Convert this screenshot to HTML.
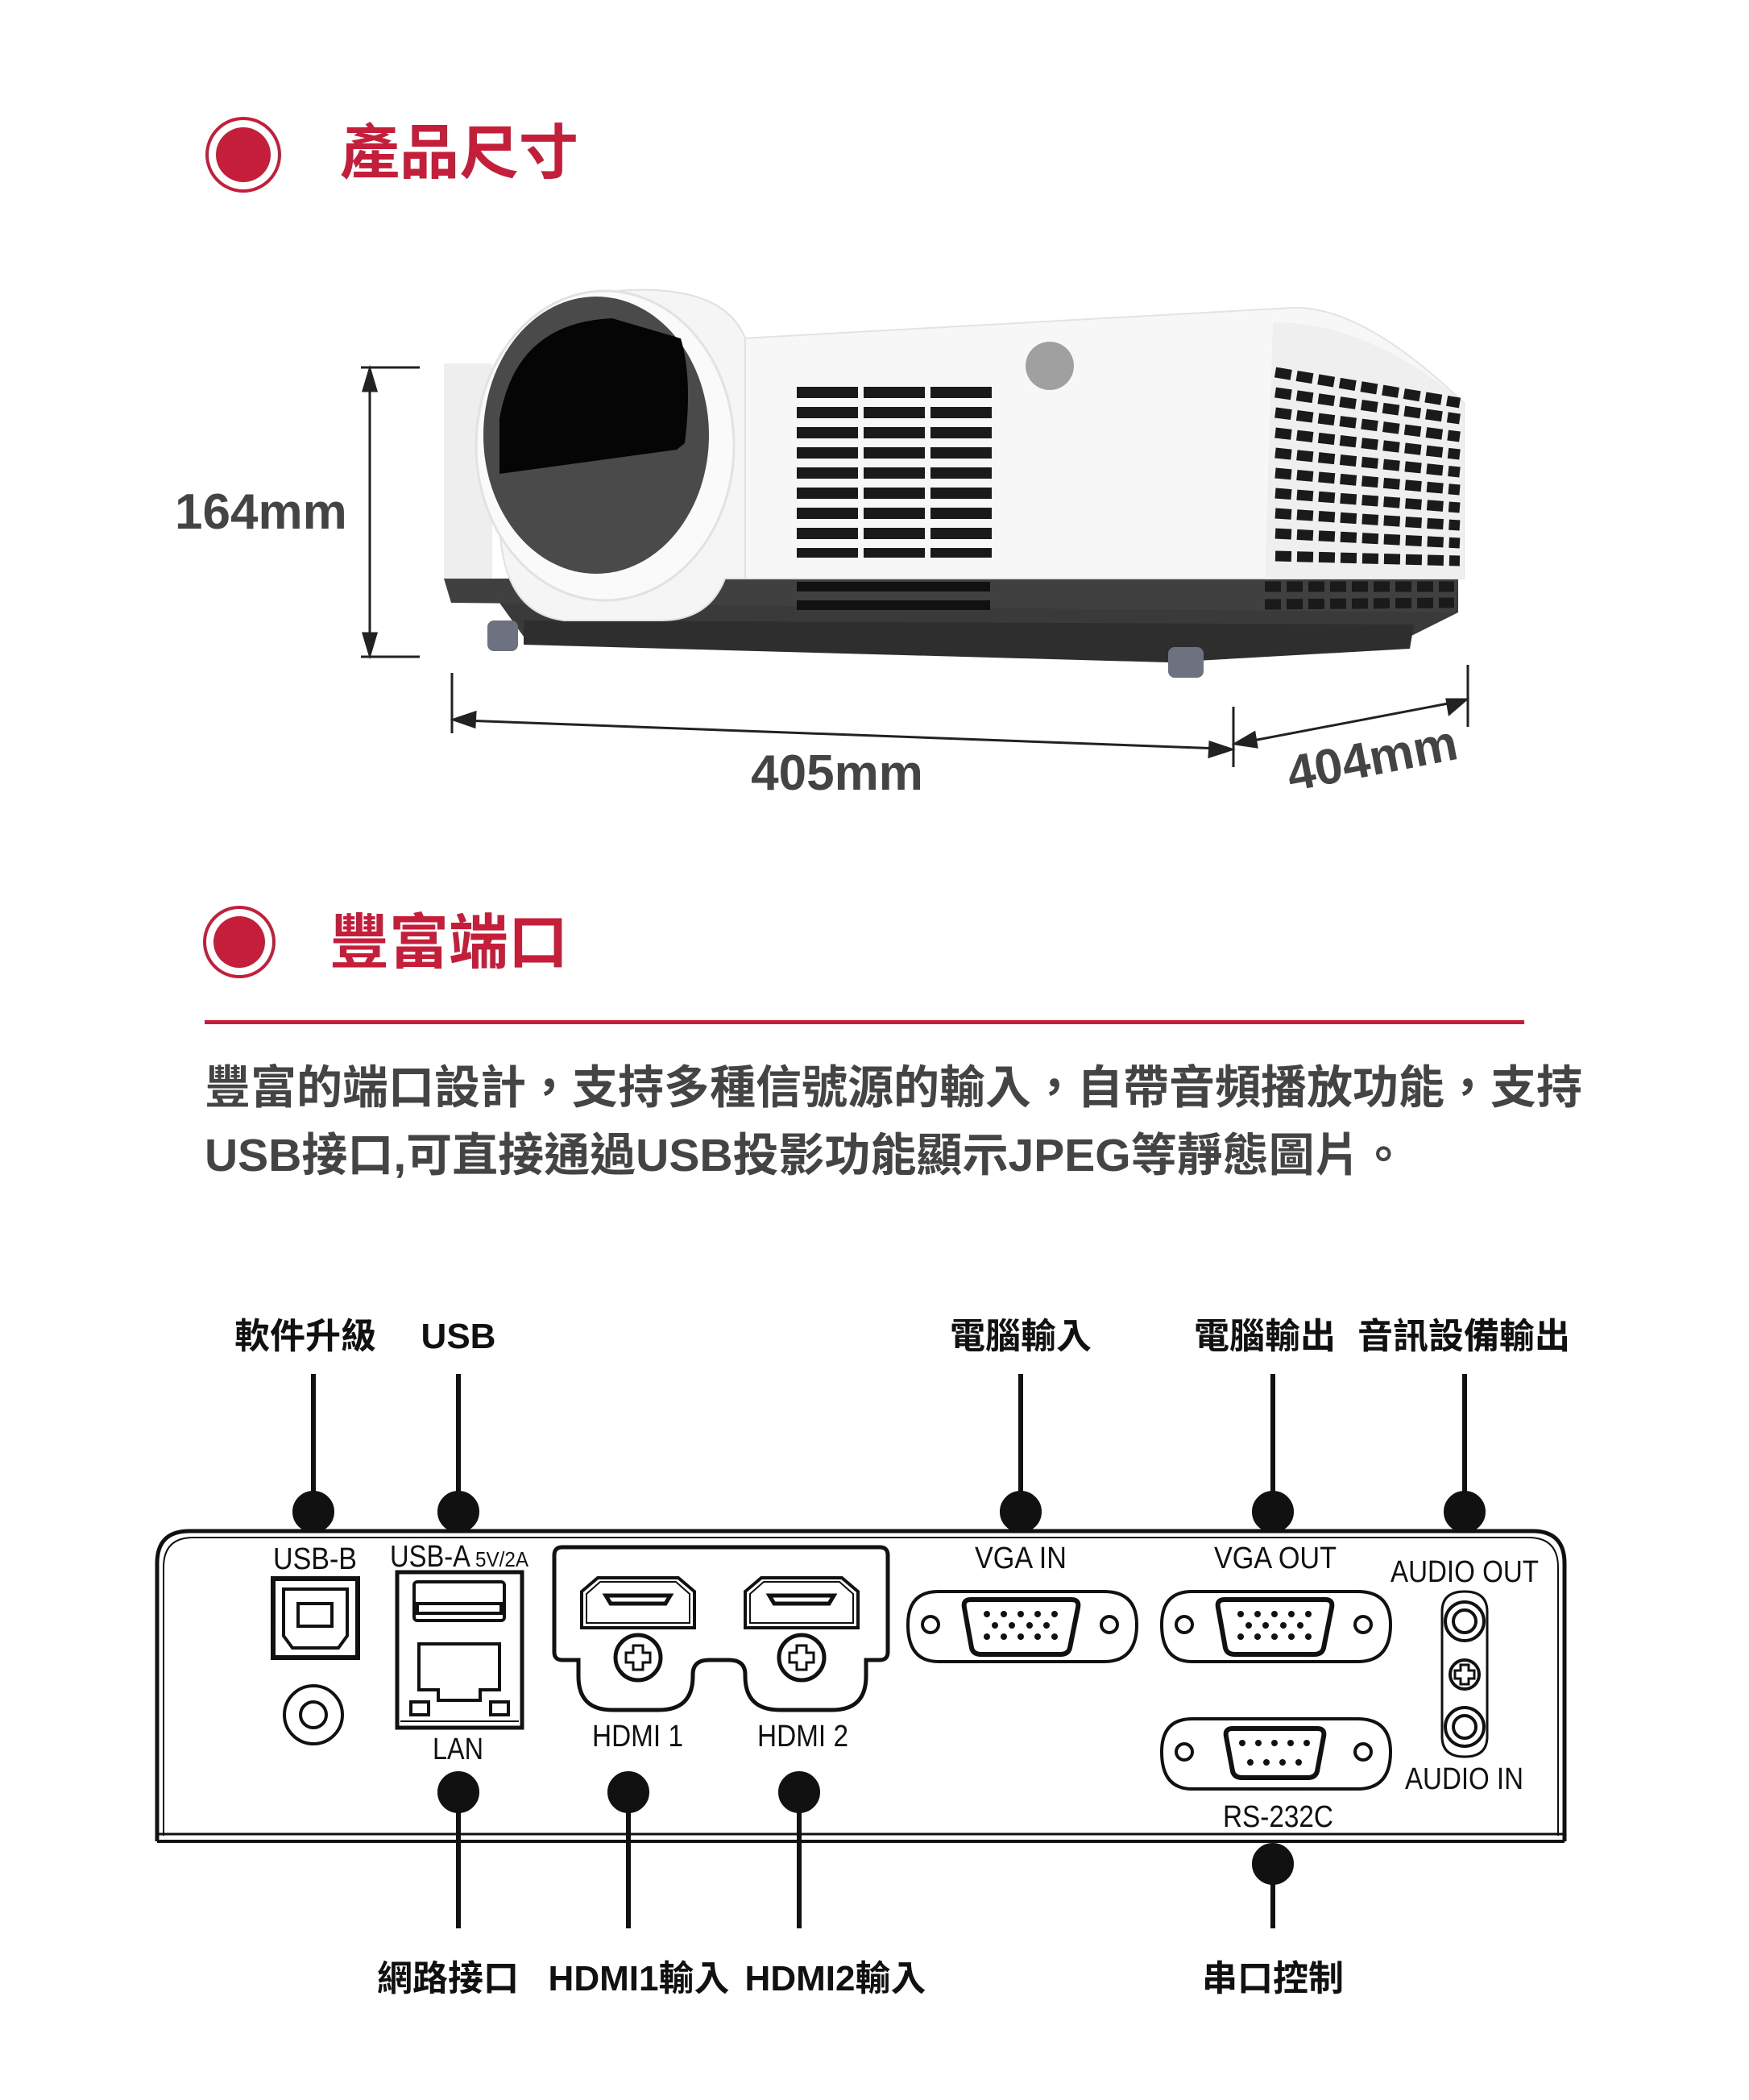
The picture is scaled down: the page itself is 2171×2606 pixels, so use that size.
<!DOCTYPE html>
<html><head><meta charset="utf-8"><style>
html,body{margin:0;padding:0;background:#fff;}
body{width:2171px;height:2606px;position:relative;overflow:hidden;}
svg{position:absolute;left:0;top:0;}
</style></head><body>
<svg width="2171" height="2606" viewBox="0 0 2171 2606" xmlns="http://www.w3.org/2000/svg">
<g font-family="'Liberation Sans','Noto Sans CJK TC',sans-serif" font-weight="bold">
<!-- Title 1 -->
<circle cx="302" cy="192" r="45" fill="none" stroke="#c41e3a" stroke-width="4"/>
<circle cx="302" cy="192" r="34" fill="#c41e3a"/>
<text x="422" y="215" font-size="74" fill="#c41e3a">產品尺寸</text>

<!-- Projector -->
<g>
 <path d="M600 720 L1810 718 L1810 760 L1750 790 L1750 800 L650 790 Z" fill="#3a3a3a"/>
 <path d="M650 770 L1755 775 L1750 805 L1450 822 L650 800 Z" fill="#2e2e2e"/>
 <path d="M551 718 L1810 718 L1806 760 L560 748 Z" fill="#404040"/>
 <path d="M920 420 L1603 382 Q1690 378 1817 500 L1817 718 L900 718 Z" fill="#f7f7f7" stroke="#e3e3e3" stroke-width="2"/>
 <path d="M1580 400 Q1700 400 1817 500 L1817 718 L1570 718 Z" fill="#efefef"/>
 <rect x="551" y="451" width="60" height="267" fill="#eeeeee"/>
 <circle cx="1303" cy="454" r="30" fill="#a0a0a0"/>
 <g fill="#1a1a1a">
  <rect x="989" y="480" width="76" height="14"/><rect x="1072" y="480" width="76" height="14"/><rect x="1155" y="480" width="76" height="14"/>
  <rect x="989" y="505" width="76" height="14"/><rect x="1072" y="505" width="76" height="14"/><rect x="1155" y="505" width="76" height="14"/>
  <rect x="989" y="530" width="76" height="14"/><rect x="1072" y="530" width="76" height="14"/><rect x="1155" y="530" width="76" height="14"/>
  <rect x="989" y="555" width="76" height="14"/><rect x="1072" y="555" width="76" height="14"/><rect x="1155" y="555" width="76" height="14"/>
  <rect x="989" y="580" width="76" height="14"/><rect x="1072" y="580" width="76" height="14"/><rect x="1155" y="580" width="76" height="14"/>
  <rect x="989" y="605" width="76" height="14"/><rect x="1072" y="605" width="76" height="14"/><rect x="1155" y="605" width="76" height="14"/>
  <rect x="989" y="630" width="76" height="14"/><rect x="1072" y="630" width="76" height="14"/><rect x="1155" y="630" width="76" height="14"/>
  <rect x="989" y="655" width="76" height="14"/><rect x="1072" y="655" width="76" height="14"/><rect x="1155" y="655" width="76" height="14"/>
  <rect x="989" y="680" width="76" height="12"/><rect x="1072" y="680" width="76" height="12"/><rect x="1155" y="680" width="76" height="12"/>
  <rect x="989" y="722" width="240" height="12" fill="#111"/><rect x="989" y="745" width="240" height="12" fill="#111"/>
 </g>
 <g stroke="#1a1a1a" stroke-width="13" stroke-dasharray="20 7">
  <line x1="1583" y1="462" x2="1812" y2="500"/><line x1="1583" y1="487" x2="1812" y2="520"/>
  <line x1="1583" y1="512" x2="1812" y2="542"/><line x1="1583" y1="537" x2="1812" y2="564"/>
  <line x1="1583" y1="562" x2="1812" y2="586"/><line x1="1583" y1="587" x2="1812" y2="608"/>
  <line x1="1583" y1="612" x2="1812" y2="630"/><line x1="1583" y1="637" x2="1812" y2="652"/>
  <line x1="1583" y1="662" x2="1812" y2="674"/><line x1="1583" y1="690" x2="1812" y2="696"/>
  <line x1="1570" y1="728" x2="1805" y2="728"/><line x1="1570" y1="750" x2="1805" y2="748"/>
 </g>
 <path d="M620 560 Q620 370 780 360 Q900 355 925 420 L925 718 L900 718 Q880 770 820 770 L700 770 Q620 760 620 640 Z" fill="#f5f5f5" stroke="#e0e0e0" stroke-width="2"/>
 <ellipse cx="751" cy="553" rx="160" ry="192" fill="#fafafa" stroke="#e2e2e2" stroke-width="3"/>
 <ellipse cx="740" cy="540" rx="140" ry="172" fill="#4a4a4a"/>
 <path d="M620 588 L620 520 Q640 400 760 395 L845 420 Q860 470 850 550 L840 558 Z" fill="#050505"/>
 <rect x="605" y="770" width="38" height="38" rx="8" fill="#6e7280"/>
 <rect x="1450" y="803" width="44" height="38" rx="8" fill="#6e7280"/>
</g>

<!-- Dimensions -->
<g stroke="#222" stroke-width="3" fill="#222">
 <line x1="448" y1="456" x2="521" y2="456"/><line x1="448" y1="815" x2="521" y2="815"/>
 <line x1="459" y1="470" x2="459" y2="800"/>
 <path d="M459 458 L451 485 L467 485 Z"/><path d="M459 813 L451 786 L467 786 Z"/>
 <line x1="561" y1="835" x2="561" y2="910"/><line x1="1531" y1="877" x2="1531" y2="952"/>
 <line x1="575" y1="894" x2="1515" y2="929"/>
 <path d="M563 893 L590 884 L589 902 Z"/><path d="M1529 930 L1502 921 L1501 939 Z"/>
 <line x1="1822" y1="825" x2="1822" y2="902"/>
 <line x1="1545" y1="921" x2="1808" y2="871"/>
 <path d="M1533 923 L1557 909 L1560 927 Z"/><path d="M1820 868 L1796 868 L1799 886 Z"/>
</g>
<text x="217" y="656" font-size="62" fill="#444">164mm</text>
<text x="1039" y="980" font-size="62" fill="#444" text-anchor="middle">405mm</text>
<text x="1703" y="962" font-size="62" fill="#444" text-anchor="middle" transform="rotate(-11 1703 940)">404mm</text>

<!-- Title 2 -->
<circle cx="297" cy="1169" r="43" fill="none" stroke="#c41e3a" stroke-width="4"/>
<circle cx="297" cy="1169" r="32" fill="#c41e3a"/>
<text x="409" y="1195" font-size="74" fill="#c41e3a">豐富端口</text>
<rect x="254" y="1266" width="1638" height="5" fill="#c41e3a"/>
<text x="254" y="1369" font-size="57" fill="#444">豐富的端口設計，支持多種信號源的輸入，自帶音頻播放功能，支持</text>
<text x="254" y="1453" font-size="57" fill="#444">USB接口,可直接通過USB投影功能顯示JPEG等靜態圖片。</text>

<!-- Port labels -->
<g font-size="44" fill="#111" text-anchor="middle">
 <text x="379" y="1673">軟件升級</text>
 <text x="569" y="1673">USB</text>
 <text x="1267" y="1673">電腦輸入</text>
 <text x="1570" y="1673">電腦輸出</text>
 <text x="1817" y="1673">音訊設備輸出</text>
 <text x="556" y="2470">網路接口</text>
 <text x="793" y="2470">HDMI1輸入</text>
 <text x="1037" y="2470">HDMI2輸入</text>
 <text x="1580" y="2470">串口控制</text>
</g>
<g stroke="#111" stroke-width="6" fill="#111">
 <line x1="389" y1="1705" x2="389" y2="1875"/><circle cx="389" cy="1876" r="23"/>
 <line x1="569" y1="1705" x2="569" y2="1875"/><circle cx="569" cy="1876" r="23"/>
 <line x1="1267" y1="1705" x2="1267" y2="1875"/><circle cx="1267" cy="1876" r="23"/>
 <line x1="1580" y1="1705" x2="1580" y2="1875"/><circle cx="1580" cy="1876" r="23"/>
 <line x1="1818" y1="1705" x2="1818" y2="1875"/><circle cx="1818" cy="1876" r="23"/>
 <line x1="569" y1="2224" x2="569" y2="2393"/><circle cx="569" cy="2224" r="23"/>
 <line x1="780" y1="2224" x2="780" y2="2393"/><circle cx="780" cy="2224" r="23"/>
 <line x1="992" y1="2224" x2="992" y2="2393"/><circle cx="992" cy="2224" r="23"/>
 <line x1="1580" y1="2313" x2="1580" y2="2393"/><circle cx="1580" cy="2313" r="23"/>
</g>

<!-- Panel -->
<g fill="none" stroke="#111">
 <path d="M195 2285 L195 1940 Q195 1900 235 1900 L1902 1900 Q1942 1900 1942 1940 L1942 2285" stroke-width="5"/>
 <path d="M203 2278 L203 1945 Q203 1908 240 1908 L1897 1908 Q1934 1908 1934 1945 L1934 2278" stroke-width="2"/>
 <line x1="195" y1="2276" x2="1942" y2="2276" stroke-width="3"/>
 <line x1="195" y1="2285" x2="1942" y2="2285" stroke-width="4"/>
</g>
<g font-family="'Liberation Sans',sans-serif" font-weight="normal" font-size="38" fill="#111" lengthAdjust="spacingAndGlyphs">
 <text x="339" y="1947" textLength="104" lengthAdjust="spacingAndGlyphs">USB-B</text>
 <text x="484" y="1944" textLength="100" lengthAdjust="spacingAndGlyphs">USB-A</text>
 <text x="590" y="1944" font-size="26" textLength="66" lengthAdjust="spacingAndGlyphs">5V/2A</text>
 <text x="537" y="2183" textLength="63" lengthAdjust="spacingAndGlyphs">LAN</text>
 <text x="735" y="2167" textLength="113" lengthAdjust="spacingAndGlyphs">HDMI 1</text>
 <text x="940" y="2167" textLength="113" lengthAdjust="spacingAndGlyphs">HDMI 2</text>
 <text x="1210" y="1946" textLength="114" lengthAdjust="spacingAndGlyphs">VGA  IN</text>
 <text x="1507" y="1946" textLength="152" lengthAdjust="spacingAndGlyphs">VGA  OUT</text>
 <text x="1726" y="1963" textLength="184" lengthAdjust="spacingAndGlyphs">AUDIO OUT</text>
 <text x="1744" y="2220" textLength="147" lengthAdjust="spacingAndGlyphs">AUDIO IN</text>
 <text x="1518" y="2267" textLength="137" lengthAdjust="spacingAndGlyphs">RS-232C</text>
</g>
<g fill="none" stroke="#111" stroke-width="4">
 <!-- USB-B -->
 <rect x="339" y="1959" width="105" height="98" stroke-width="6"/>
 <path d="M352 1972 L431 1972 L431 2030 L420 2045 L363 2045 L352 2030 Z"/>
 <rect x="370" y="1990" width="42" height="28"/>
 <circle cx="389" cy="2128" r="36"/><circle cx="389" cy="2128" r="16"/>
 <!-- USB-A/LAN -->
 <rect x="493" y="1951" width="155" height="193" stroke-width="5"/>
 <rect x="514" y="1963" width="112" height="48" rx="4"/>
 <rect x="518" y="1990" width="104" height="12"/>
 <path d="M520 2040 L620 2040 L620 2097 L596 2097 L596 2110 L544 2110 L544 2097 L520 2097 Z"/>
 <rect x="510" y="2112" width="22" height="16"/><rect x="609" y="2112" width="22" height="16"/>
 <line x1="497" y1="2136" x2="644" y2="2136" stroke-width="2"/>
 <!-- HDMI bracket -->
 <path d="M698 1920 L1092 1920 Q1102 1920 1102 1930 L1102 2050 Q1102 2060 1092 2060 L1075 2060 L1075 2080 Q1075 2122 1033 2122 L968 2122 Q925 2122 925 2080 L925 2078 Q925 2060 905 2060 L880 2060 Q860 2060 860 2078 L860 2080 Q860 2122 818 2122 L760 2122 Q718 2122 718 2080 L718 2060 L698 2060 Q688 2060 688 2050 L688 1930 Q688 1920 698 1920 Z" stroke-width="5"/>
 <path d="M722 1990 L722 1975 L742 1958 L842 1958 L862 1975 L862 2020 L722 2020 Z"/>
 <path d="M728 1990 L728 1978 L745 1963 L839 1963 L856 1978 L856 2014 L728 2014 Z" stroke-width="2"/>
 <path d="M752 1980 L832 1980 L826 1990 L758 1990 Z" stroke-width="5"/>
 <path d="M925 1990 L925 1975 L945 1958 L1045 1958 L1065 1975 L1065 2020 L925 2020 Z"/>
 <path d="M931 1990 L931 1978 L948 1963 L1042 1963 L1059 1978 L1059 2014 L931 2014 Z" stroke-width="2"/>
 <path d="M955 1980 L1035 1980 L1029 1990 L961 1990 Z" stroke-width="5"/>
 <circle cx="792" cy="2057" r="28" stroke-width="5"/><path d="M786 2042 h12 v9 h9 v12 h-9 v9 h-12 v-9 h-9 v-12 h9 Z" stroke-width="3"/>
 <circle cx="995" cy="2057" r="28" stroke-width="5"/><path d="M989 2042 h12 v9 h9 v12 h-9 v9 h-12 v-9 h-9 v-12 h9 Z" stroke-width="3"/>
 <!-- VGA IN -->
 <path d="M1165 1975 L1370 1975 Q1411 1975 1411 2016 Q1411 2062 1370 2062 L1165 2062 Q1127 2062 1127 2016 Q1127 1975 1165 1975 Z"/>
 <circle cx="1155" cy="2016" r="10"/><circle cx="1377" cy="2016" r="10"/>
 <path d="M1205 1985 L1330 1985 Q1340 1985 1338 1995 L1328 2045 Q1326 2053 1316 2053 L1218 2053 Q1208 2053 1206 2045 L1197 1995 Q1195 1985 1205 1985 Z" stroke-width="6"/>
 <!-- VGA OUT -->
 <path d="M1480 1975 L1685 1975 Q1726 1975 1726 2016 Q1726 2062 1685 2062 L1480 2062 Q1442 2062 1442 2016 Q1442 1975 1480 1975 Z"/>
 <circle cx="1470" cy="2016" r="10"/><circle cx="1692" cy="2016" r="10"/>
 <path d="M1520 1985 L1645 1985 Q1655 1985 1653 1995 L1643 2045 Q1641 2053 1631 2053 L1533 2053 Q1523 2053 1521 2045 L1512 1995 Q1510 1985 1520 1985 Z" stroke-width="6"/>
 <!-- RS232 -->
 <path d="M1480 2133 L1685 2133 Q1726 2133 1726 2174 Q1726 2220 1685 2220 L1480 2220 Q1442 2220 1442 2174 Q1442 2133 1480 2133 Z"/>
 <circle cx="1470" cy="2174" r="10"/><circle cx="1692" cy="2174" r="10"/>
 <path d="M1530 2145 L1635 2145 Q1645 2145 1643 2155 L1635 2198 Q1633 2206 1623 2206 L1542 2206 Q1532 2206 1530 2198 L1522 2155 Q1520 2145 1530 2145 Z" stroke-width="6"/>
 <!-- Audio -->
 <path d="M1790 2000 Q1790 1975 1818 1975 Q1846 1975 1846 2000 L1846 2155 Q1846 2180 1818 2180 Q1790 2180 1790 2155 Z" stroke-width="3"/>
 <circle cx="1818" cy="2012" r="24"/><circle cx="1818" cy="2012" r="14"/>
 <circle cx="1818" cy="2143" r="24"/><circle cx="1818" cy="2143" r="14"/>
 <circle cx="1818" cy="2078" r="18"/><path d="M1813 2066 h10 v7 h7 v10 h-7 v7 h-10 v-7 h-7 v-10 h7 Z" stroke-width="3"/>
</g>
<g fill="#111">
 <g transform="translate(1267 2003)"><circle cx="-42" cy="0" r="4"/><circle cx="-21" cy="0" r="4"/><circle cx="0" cy="0" r="4"/><circle cx="21" cy="0" r="4"/><circle cx="42" cy="0" r="4"/><circle cx="-32" cy="14" r="4"/><circle cx="-11" cy="14" r="4"/><circle cx="11" cy="14" r="4"/><circle cx="32" cy="14" r="4"/><circle cx="-42" cy="28" r="4"/><circle cx="-21" cy="28" r="4"/><circle cx="0" cy="28" r="4"/><circle cx="21" cy="28" r="4"/><circle cx="42" cy="28" r="4"/></g>
 <g transform="translate(1582 2003)"><circle cx="-42" cy="0" r="4"/><circle cx="-21" cy="0" r="4"/><circle cx="0" cy="0" r="4"/><circle cx="21" cy="0" r="4"/><circle cx="42" cy="0" r="4"/><circle cx="-32" cy="14" r="4"/><circle cx="-11" cy="14" r="4"/><circle cx="11" cy="14" r="4"/><circle cx="32" cy="14" r="4"/><circle cx="-42" cy="28" r="4"/><circle cx="-21" cy="28" r="4"/><circle cx="0" cy="28" r="4"/><circle cx="21" cy="28" r="4"/><circle cx="42" cy="28" r="4"/></g>
 <g transform="translate(1582 2163)"><circle cx="-40" cy="0" r="4"/><circle cx="-20" cy="0" r="4"/><circle cx="0" cy="0" r="4"/><circle cx="20" cy="0" r="4"/><circle cx="40" cy="0" r="4"/><circle cx="-30" cy="24" r="4"/><circle cx="-10" cy="24" r="4"/><circle cx="10" cy="24" r="4"/><circle cx="30" cy="24" r="4"/></g>
</g>
</g>
</svg>
</body></html>
